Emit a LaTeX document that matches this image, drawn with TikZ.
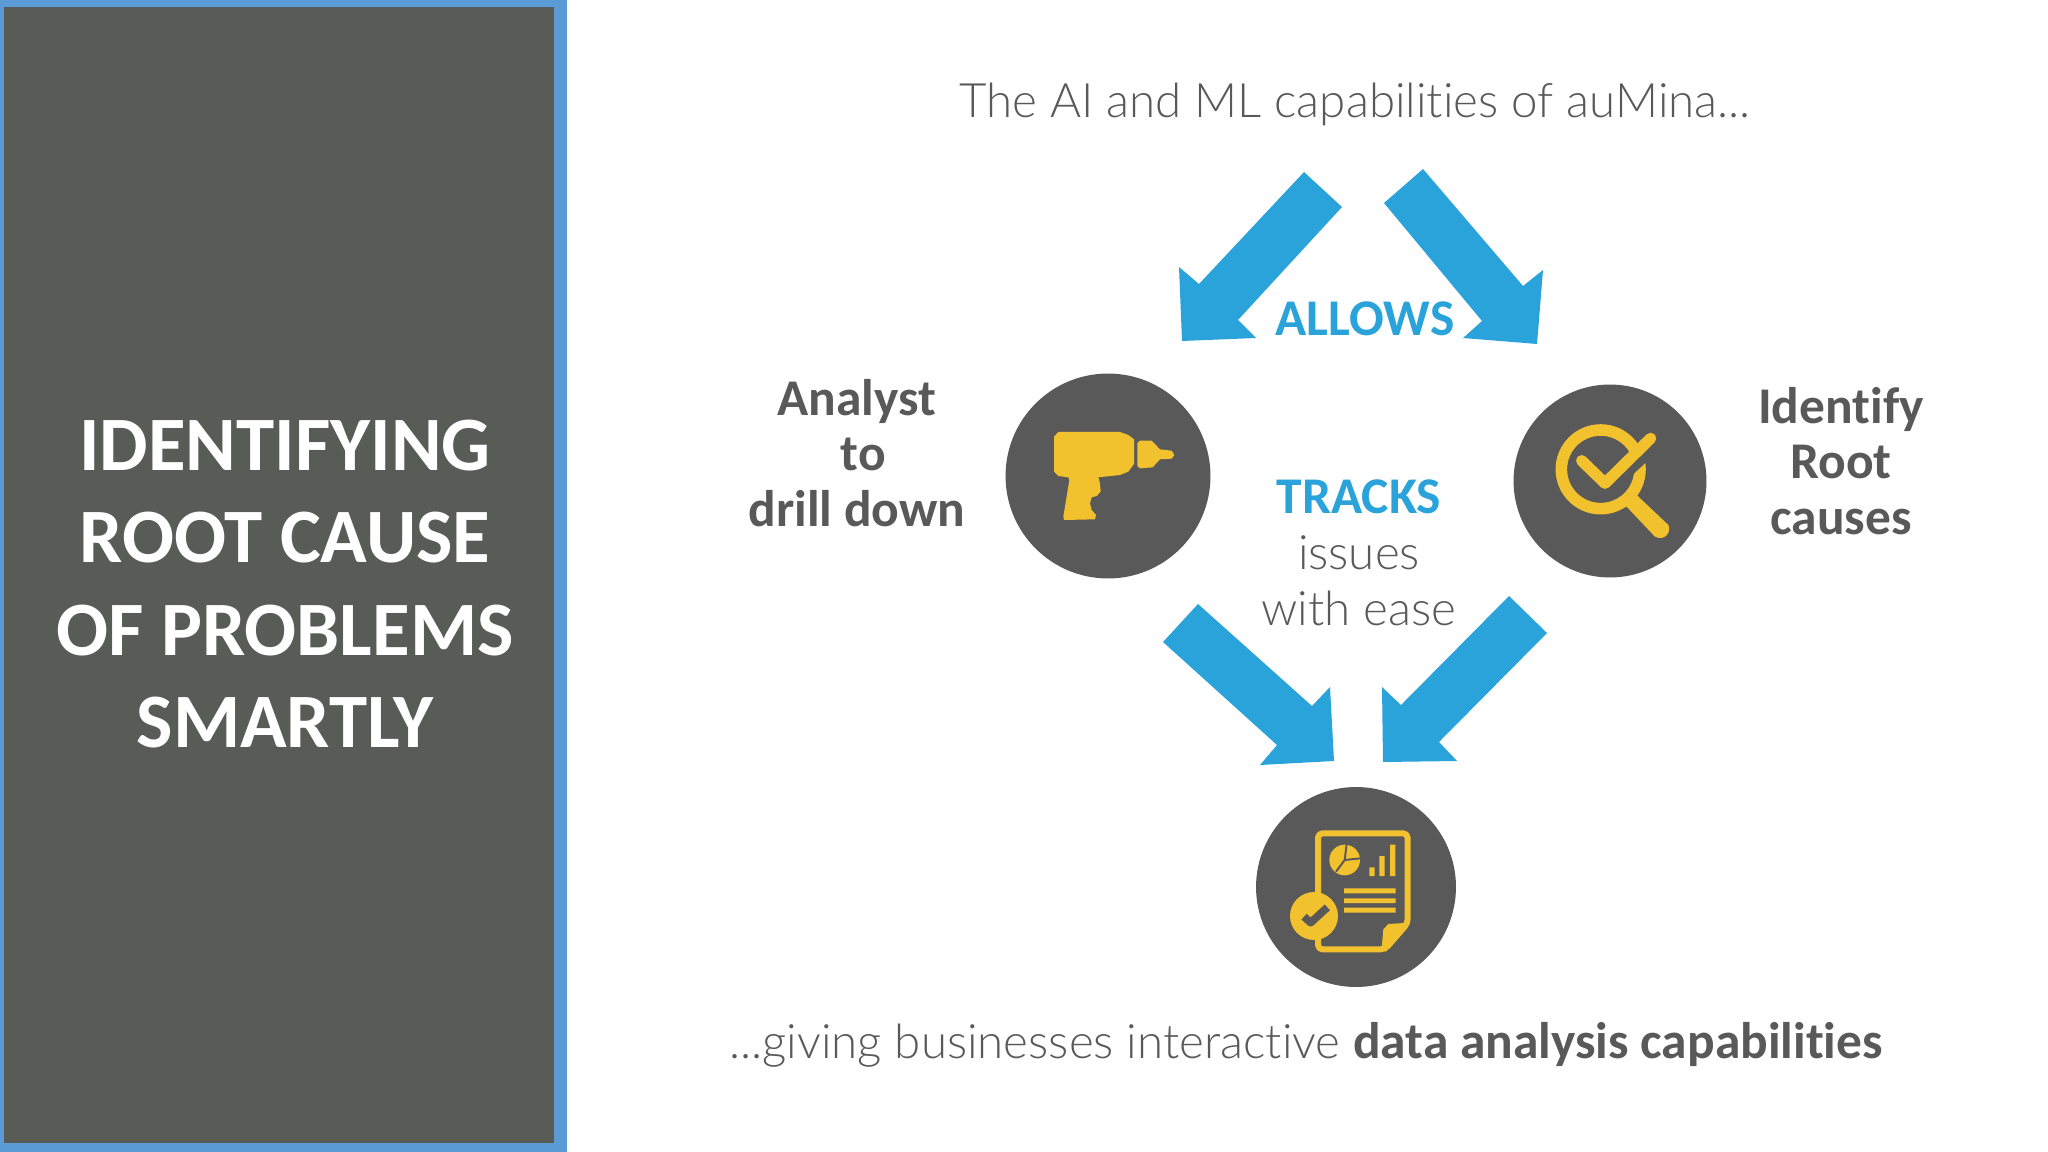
\documentclass[tikz,border=0pt]{standalone}
\usepackage{fontspec}
\setmainfont[Ligatures=NoCommon]{Carlito}
\newfontfamily\lightfont[Scale=0.9,Ligatures=NoCommon]{Lato Light}
\definecolor{panelblue}{HTML}{5B9BD5}
\definecolor{panelgrey}{HTML}{595B57}
\definecolor{discgrey}{HTML}{595959}
\definecolor{arrowblue}{HTML}{29A3DA}
\definecolor{iconyellow}{HTML}{F2C12E}
\definecolor{textgrey}{HTML}{595959}
\tikzset{
	blockarrow/.style={fill=arrowblue},
	disc/.style={circle,fill=discgrey,inner sep=0pt,minimum size=#1*0.569pt},
	icon/.style={fill=iconyellow},
	iconline/.style={draw=iconyellow,line cap=round,line join=round},
	headtext/.style={text=white,align=center,font=\fontsize{43.8}{52.5}\selectfont\bfseries},
	sidetext/.style={text=textgrey,align=center,font=\fontsize{29.3}{31.6}\selectfont\bfseries},
	thintext/.style={text=textgrey,align=center,font=\fontsize{30}{31.6}\selectfont\lightfont},
}

\begin{document}
\begin{tikzpicture}[x=0.02cm,y=-0.02cm]
	\useasboundingbox (0,0) rectangle (2048,1152);

	%left panel
	\fill[panelblue] (0,0) rectangle (567,1152);
	\fill[panelgrey] (4,7) rectangle (554,1143);
	\node[headtext] (title) at (285,584) {IDENTIFYING\\ROOT CAUSE\\OF PROBLEMS\\SMARTLY};

	%texts
	\node[thintext] (intro) at (1355,104) {The AI and ML capabilities of auMina...};
	\node[sidetext,text=arrowblue] (allows) at (1365,319) {ALLOWS};
	\node[sidetext] (analyst) at (857,453) {Analyst\\\hspace*{7pt}to\\drill down};
	\node[sidetext] (identify) at (1841,461) {Identify\\Root\\causes};
	\node[sidetext,text=arrowblue] (tracks) at (1359,497) {TRACKS};
	\node[thintext] (issues) at (1359,581) {issues\\with ease};
	\node[thintext,anchor=west] (outro) at (723,1045) {...giving businesses interactive {\normalfont\fontsize{29.3}{31.6}\selectfont\bfseries data analysis capabilities}};

	%circles
	\node[disc=205] (drill) at (1108,476) {};
	\node[disc=193] (lens) at (1610,481) {};
	\node[disc=200] (report) at (1356,887) {};

	%arrows clockwise from the top left
	\fill[blockarrow] (1304,172) -- (1342,207) -- (1238,320) -- (1256,338) -- (1182,341) -- (1179,267) -- (1199,284) -- cycle;
	\fill[blockarrow] (1423,169) -- (1384,203) -- (1482,321) -- (1463,338) -- (1537,344) -- (1543,270) -- (1523,286) -- cycle;
	\fill[blockarrow] (1509,596) -- (1547,633) -- (1439,742) -- (1457,761) -- (1383,762) -- (1382,687) -- (1401,705) -- cycle;
	\fill[blockarrow] (1198,604) -- (1163,642) -- (1277,745) -- (1260,765) -- (1334,761) -- (1330,687) -- (1312,706) -- cycle;

	%drill
	\begin{scope}[shift={(980,340)},x=0.00667cm,y=-0.00667cm]
		\fill[icon] (222,290) -- (235,276) -- (420,276) -- (445,285) -- (462,298) -- (462,372) -- (445,395) -- (420,405) -- (355,412) -- (360,430) -- (362,455) -- (350,468) -- (335,472) -- (330,490) -- (335,510) -- (348,525) -- (345,538) -- (252,540) -- (250,530) -- (268,420) -- (265,412) -- (235,408) -- (222,395) -- cycle;
		\fill[icon] (472,310) -- (480,302) -- (515,302) -- (540,328) -- (575,332) -- (583,345) -- (575,356) -- (540,358) -- (518,382) -- (480,385) -- (472,378) -- cycle;
	\end{scope}

	%magnifier
	\begin{scope}[shift={(1490,370)},x=0.00667cm,y=-0.00667cm]
		\draw[iconline,line width=6.6pt] (332,298) circle [x radius=118,y radius=118];
		\draw[discgrey,line width=9pt] (360,345) -- (500,215);
		\draw[iconline,line width=6.4pt] (275,272) -- (345,340) -- (482,205);
		\fill[icon] (405,405) -- (440,375) -- (535,465) .. controls (545,485) and (525,515) .. (495,500) -- cycle;
	\end{scope}

	%report
	\begin{scope}[shift={(1240,770)},x=0.00667cm,y=-0.00667cm]
		\draw[iconline,line width=3.4pt,rounded corners=2.5pt] (234,400) -- (234,190) -- (503,190) -- (503,460) -- (435,538) -- (234,538) -- (234,505);
		\fill[icon] (425,535) -- (430,478) -- (445,462) -- (510,458) -- (438,545) -- cycle;
		\fill[icon] (314,270) circle [x radius=46,y radius=46];
		\draw[discgrey,line width=1.1pt] (320,222) -- (314,270) -- (362,265) (314,270) -- (288,305);
		\fill[icon] (388,292) rectangle (404,318) (418,258) rectangle (434,318) (450,224) rectangle (466,318);
		\fill[icon] (312,355) rectangle (467,370) (312,385) rectangle (467,399) (312,413) rectangle (467,428);
		\fill[icon] (222,438) circle [x radius=72,y radius=72];
		\draw[discgrey,line width=4.4pt,line join=round] (192,440) -- (212,458) -- (262,412);
	\end{scope}
\end{tikzpicture}
\end{document}
